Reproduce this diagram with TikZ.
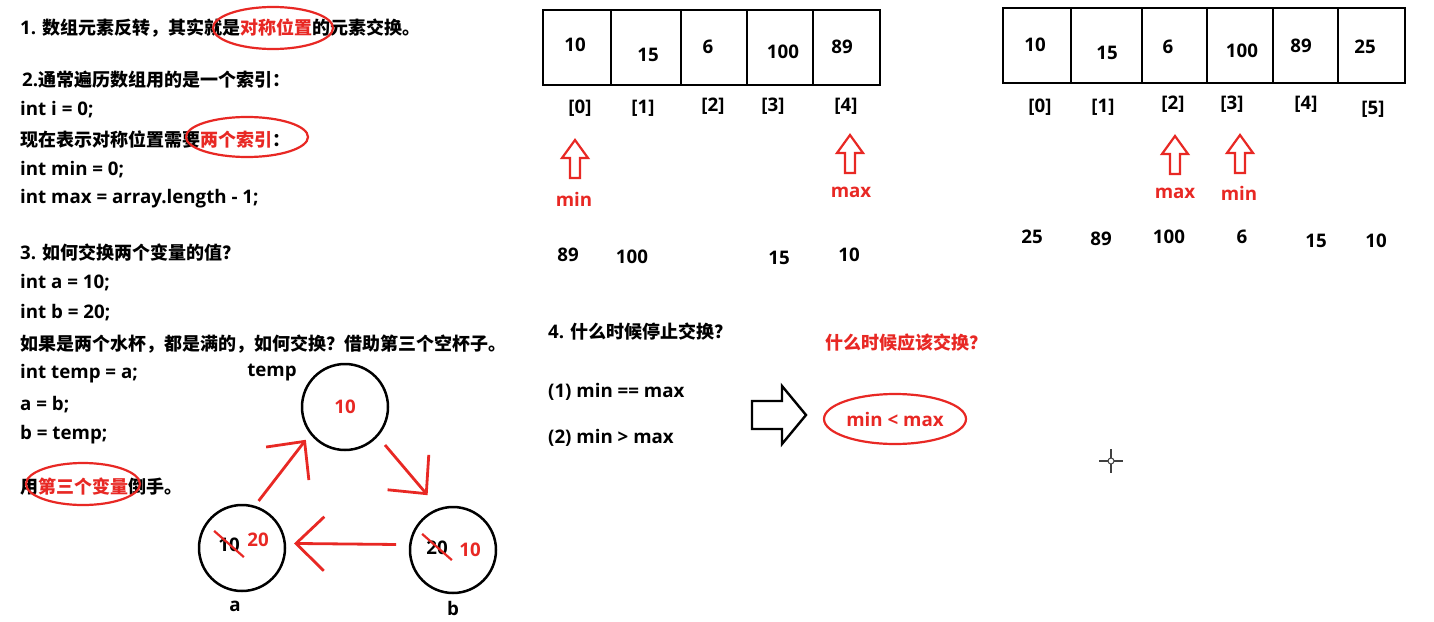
\documentclass[tikz,border=0pt]{standalone}
\usepackage{fontspec}
\setmainfont{Open Sans}[Scale=1.04]
\newfontfamily\cjk{Noto Sans CJK SC}
\usetikzlibrary{arrows.meta,shapes.geometric,calc}
\definecolor{myred}{RGB}{232,40,36}
\newcommand\zh[1]{{\cjk #1}}
\newcommand\zr[1]{{\cjk\color{myred}#1}}
\begin{document}
\begin{tikzpicture}[x=1pt,y=-1pt,
  base/.style={inner sep=0pt, font=\fontsize{18}{21}\selectfont\bfseries},
  txt/.style={base, anchor=west},
  ctxt/.style={base, anchor=center},
  rtxt/.style={ctxt, text=myred},
  cell/.style={draw, line width=2.6pt, minimum height=75, inner sep=0pt},
  circ/.style={circle, draw, line width=2.5pt, minimum size=86, inner sep=0pt},
  oval/.style={ellipse, draw=myred, line width=2.2pt, inner sep=0pt},
  redarrow/.style={draw=myred, line width=2.8pt, -{Straight Barb[length=28pt,width=54pt,line width=2.8pt]}},
  strike/.style={draw=myred, line width=2.2pt},
  hollowup/.pic={\draw[myred, line width=2.2pt, line join=miter]
     (0,0) -- (13,18) -- (5,18) -- (5,38) -- (-5,38) -- (-5,18) -- (-13,18) -- cycle;}
]
\useasboundingbox (0,0) rectangle (1434,621);
\fill[white] (0,0) rectangle (1434,621);

% ---------- left column text ----------
\node[txt] (l1) at (20,28) {1. \zh{数组元素反转，其实就是}\zr{对称位置}\zh{的元素交换。}};
\node[txt] (l2) at (22,80) {2.\zh{通常遍历数组用的是一个索引：}};
\node[txt] (l3) at (20,110) {int i = 0;};
\node[txt] (l4) at (20,140) {\zh{现在表示对称位置需要}\zr{两个索引}\zh{：}};
\node[txt] (l5) at (20,170) {int min = 0;};
\node[txt] (l6) at (20,199) {int max = array.length - 1;};
\node[txt] (l7) at (20,253) {3. \zh{如何交换两个变量的值？}};
\node[txt] (l8) at (20,283) {int a = 10;};
\node[txt] (l9) at (20,313) {int b = 20;};
\node[txt] (l10) at (20,344) {\zh{如果是两个水杯，都是满的，如何交换？借助第三个空杯子。}};
\node[txt] (l11) at (20,374) {int temp = a;};
\node[txt] (l12) at (20,405) {a = b;};
\node[txt] (l13) at (20,435) {b = temp;};
\node[txt] (l14) at (20,487) {\zh{用}\zr{第三个变量}\zh{倒手。}};

\node[oval, minimum width=120, minimum height=42] (e1) at (273,28) {};
\node[oval, minimum width=122, minimum height=40] (e2) at (247,137) {};
\node[oval, minimum width=114, minimum height=42] (e3) at (83,484) {};

% ---------- swap circles ----------
\node[ctxt] (ltemp) at (272,373) {temp};
\node[circ] (ct) at (345,407) {};
\node[rtxt] (t10) at (345,407) {10};
\node[circ] (ca) at (242,548) {};
\node[circ] (cb) at (453,550) {};
\node[ctxt] (a10) at (229,545) {10};
\node[rtxt] (a20) at (258,540) {20};
\node[ctxt] (b20) at (437,548) {20};
\node[rtxt] (b10) at (470,550) {10};
\node[ctxt] (la) at (235,606) {a};
\node[ctxt] (lb) at (453,608) {b};
\draw[strike] ([shift={(-4,-7)}]a10.north west) -- ([shift={(4,5)}]a10.south east);
\draw[strike] ([shift={(-4,-7)}]b20.north west) -- ([shift={(4,5)}]b20.south east);

\draw[redarrow, shorten <=6pt, shorten >=7pt] (ca.73) -- (ct.218);
\draw[redarrow, shorten <=11pt, shorten >=17pt] (ct.-42) -- (cb.109);
\draw[redarrow, shorten <=13pt, shorten >=8pt] (cb.173) -- (ca.6);

% ---------- middle array ----------
\node[cell, minimum width=68] (m0) at (577,47.5) {};
\node[cell, minimum width=70] (m1) at (646,47.5) {};
\node[cell, minimum width=66] (m2) at (714,47.5) {};
\node[cell, minimum width=66] (m3) at (780,47.5) {};
\node[cell, minimum width=67] (m4) at (846.5,47.5) {};
\node[ctxt] (mv0) at (575,45) {10};
\node[ctxt] (mv1) at (648,55) {15};
\node[ctxt] (mv2) at (708,47) {6};
\node[ctxt] (mv3) at (783,52) {100};
\node[ctxt] (mv4) at (842,47) {89};
\node[ctxt] (mi0) at (580,108) {[0]};
\node[ctxt] (mi1) at (643,108) {[1]};
\node[ctxt] (mi2) at (713,106) {[2]};
\node[ctxt] (mi3) at (773,106) {[3]};
\node[ctxt] (mi4) at (846,106) {[4]};
\pic at (575,140) {hollowup};
\pic at (850,135) {hollowup};
\node[rtxt] (mmin) at (574,199) {min};
\node[rtxt] (mmax) at (851,192) {max};
\node[ctxt] (mb0) at (568,255) {89};
\node[ctxt] (mb1) at (632,257) {100};
\node[ctxt] (mb3) at (779,258) {15};
\node[ctxt] (mb4) at (849,255) {10};

% ---------- middle bottom ----------
\node[txt] (q4) at (548,332) {4. \zh{什么时候停止交换？}};
\node[txt] (c1) at (548,392) {(1) min == max};
\node[txt] (c2) at (548,438) {(2) min > max};
\draw[line width=2.4pt, line join=miter] (752,401) -- (782,401) -- (782,386) -- (806,415) -- (782,444) -- (782,429) -- (752,429) -- cycle;
\node[txt, text=myred] (q5) at (825,343) {\zh{什么时候应该交换？}};
\node[oval, minimum width=142, minimum height=50, text=myred, font=\fontsize{18}{21}\selectfont\bfseries] (e4) at (895,419) {min < max};

% ---------- right array ----------
\node[cell, minimum width=68] (r0) at (1037,45.5) {};
\node[cell, minimum width=71] (r1) at (1106.5,45.5) {};
\node[cell, minimum width=65] (r2) at (1174.5,45.5) {};
\node[cell, minimum width=66] (r3) at (1240,45.5) {};
\node[cell, minimum width=65] (r4) at (1305.5,45.5) {};
\node[cell, minimum width=67] (r5) at (1371.5,45.5) {};
\node[ctxt] (rv0) at (1035,45) {10};
\node[ctxt] (rv1) at (1107,53) {15};
\node[ctxt] (rv2) at (1168,47) {6};
\node[ctxt] (rv3) at (1242,51) {100};
\node[ctxt] (rv4) at (1301,46) {89};
\node[ctxt] (rv5) at (1365,47) {25};
\node[ctxt] (ri0) at (1040,107) {[0]};
\node[ctxt] (ri1) at (1103,107) {[1]};
\node[ctxt] (ri2) at (1173,104) {[2]};
\node[ctxt] (ri3) at (1232,104) {[3]};
\node[ctxt] (ri4) at (1306,104) {[4]};
\node[ctxt] (ri5) at (1373,109) {[5]};
\pic at (1175,136) {hollowup};
\pic at (1240,135) {hollowup};
\node[rtxt] (rmax) at (1175,193) {max};
\node[rtxt] (rmin) at (1239,193) {min};
\node[ctxt] (rb0) at (1032,237) {25};
\node[ctxt] (rb1) at (1101,239) {89};
\node[ctxt] (rb2) at (1169,237) {100};
\node[ctxt] (rb3) at (1242,237) {6};
\node[ctxt] (rb4) at (1316,241) {15};
\node[ctxt] (rb5) at (1376,241) {10};

% ---------- cursor ----------
\draw[line width=1.4pt, black!75] (1099,461) -- (1108,461) (1114,461) -- (1123,461)
  (1111,449) -- (1111,458) (1111,464) -- (1111,473);
\draw[line width=1pt, black!75] (1111,461) circle (3);
\end{tikzpicture}
\end{document}
